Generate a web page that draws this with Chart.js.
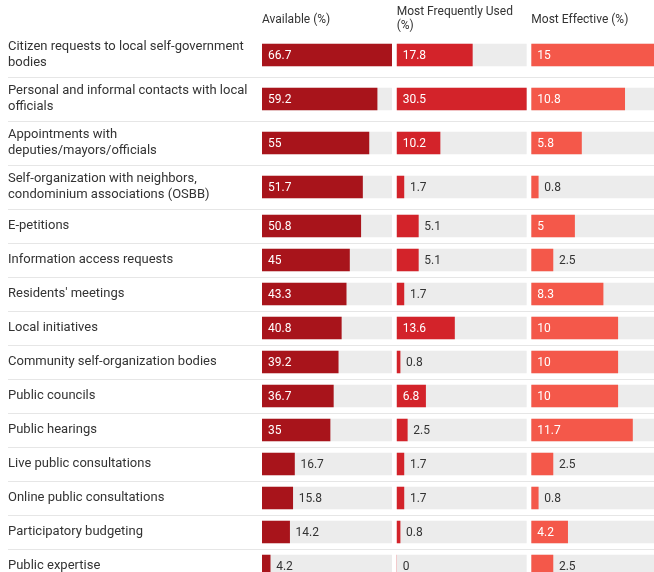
<!DOCTYPE html>
<html>
<head>
<meta charset="utf-8">
<script src="https://cdn.jsdelivr.net/npm/chart.js@4"></script>
<style>
    html, body { margin: 0; padding: 0; background: #fff; overflow: hidden; }
    canvas { display: block; }
</style>
</head>
<body>
<canvas id="chartMecanismos" width="666" height="583"></canvas>
<script>
var rotulos = [
    ['Citizen requests to local self-government', 'bodies'],
    ['Personal and informal contacts with local', 'officials'],
    ['Appointments with', 'deputies/mayors/officials'],
    ['Self-organization with neighbors,', 'condominium associations (OSBB)'],
    ['E-petitions'],
    ['Information access requests'],
    ["Residents' meetings"],
    ['Local initiatives'],
    ['Community self-organization bodies'],
    ['Public councils'],
    ['Public hearings'],
    ['Live public consultations'],
    ['Online public consultations'],
    ['Participatory budgeting'],
    ['Public expertise']
];

var disponivel = [66.7, 59.2, 55, 51.7, 50.8, 45, 43.3, 40.8, 39.2, 36.7, 35, 16.7, 15.8, 14.2, 4.2];
var maisUsado = [17.8, 30.5, 10.2, 1.7, 5.1, 5.1, 1.7, 13.6, 0.8, 6.8, 2.5, 1.7, 1.7, 0.8, 0];
var maisEficaz = [15, 10.8, 5.8, 0.8, 5, 2.5, 8.3, 10, 10, 10, 11.7, 2.5, 0.8, 4.2, 2.5];

var colunas = [
    { id: 'x1', titulo: ['Available (%)'], valores: disponivel, cor: '#a8141b' },
    { id: 'x2', titulo: ['Most Frequently Used', '(%)'], valores: maisUsado, cor: '#d3232a' },
    { id: 'x3', titulo: ['Most Effective (%)'], valores: maisEficaz, cor: '#f4584a' }
];

var ALTURA_BARRA = 22;
var ALTURA_LINHA_TEXTO = 16;

// altura de cada linha da tabela conforme o numero de linhas do rotulo
var centros = [];
var limites = [];
var acumulado = 0;
for (let i = 0; i < rotulos.length; i++) {
    var altura = Math.max(ALTURA_BARRA, rotulos[i].length * ALTURA_LINHA_TEXTO) + 12;
    centros.push(acumulado + altura / 2);
    acumulado += altura;
    limites.push(acumulado);
}
var alturaTotal = acumulado;

var datasets = [];
var escalas = {};

for (let c = 0; c < colunas.length; c++) {
    var col = colunas[c];
    var maximo = Math.max(...col.valores);

    // trilho cinza atras de cada barra
    datasets.push({
        label: 'trilho',
        data: col.valores.map((v, i) => ({ x: maximo, y: centros[i] })),
        xAxisID: col.id,
        backgroundColor: '#ececec',
        barThickness: ALTURA_BARRA,
        grouped: false,
        order: 2
    });

    datasets.push({
        label: col.titulo.join(' '),
        data: col.valores.map((v, i) => ({ x: v, y: centros[i] })),
        xAxisID: col.id,
        backgroundColor: col.cor,
        barThickness: ALTURA_BARRA,
        grouped: false,
        order: 1,
        valorRotulo: true
    });
}

// o chart.js empilha os eixos do topo na ordem inversa
for (let c = colunas.length - 1; c >= 0; c--) {
    var col = colunas[c];
    var duasLinhas = col.titulo.length > 1;
    escalas[col.id] = {
        type: 'linear',
        position: 'top',
        stack: 'colunas',
        stackWeight: 1,
        min: 0,
        max: Math.max(...col.valores) * 1.0386,
        ticks: { display: false },
        grid: { display: false, drawTicks: false },
        border: { display: false },
        title: {
            display: true,
            text: col.titulo,
            align: 'start',
            color: '#333',
            font: { family: 'Roboto', size: 12, lineHeight: '14px' },
            padding: duasLinhas ? { top: 5, bottom: 0 } : { top: 12.5, bottom: 6.5 }
        }
    };
}

escalas.y = {
    type: 'linear',
    reverse: true,
    offset: false,
    min: 0,
    max: alturaTotal,
    afterBuildTicks: function (scale) {
        scale.ticks = centros.map(v => ({ value: v }));
    },
    afterFit: function (scale) {
        scale.width = 254;
        scale.paddingTop = 0;
        scale.paddingBottom = 0;
    },
    ticks: {
        autoSkip: false,
        crossAlign: 'far',
        padding: 0,
        color: '#333',
        font: { family: 'Roboto', size: 13, lineHeight: '16px' },
        callback: function (valor, indice) {
            return rotulos[indice];
        }
    },
    grid: { display: false, drawTicks: false },
    border: { display: false }
};

// linhas separadoras entre as linhas da tabela
var separadores = {
    id: 'separadores',
    beforeDatasetsDraw: function (chart) {
        var ctx = chart.ctx;
        var y = chart.scales.y;
        ctx.save();
        ctx.strokeStyle = '#e6e6e6';
        ctx.lineWidth = 1;
        for (let i = 0; i < limites.length - 1; i++) {
            var py = Math.round(y.getPixelForValue(limites[i])) + 0.5;
            ctx.beginPath();
            ctx.moveTo(8, py);
            ctx.lineTo(chart.width, py);
            ctx.stroke();
        }
        ctx.restore();
    }
};

// valor escrito dentro da barra quando cabe, senao logo depois dela
var valores = {
    id: 'valores',
    afterDatasetsDraw: function (chart) {
        var ctx = chart.ctx;
        ctx.save();
        ctx.font = '12px Roboto';
        ctx.textBaseline = 'middle';
        ctx.textAlign = 'left';
        chart.data.datasets.forEach(function (ds, d) {
            if (!ds.valorRotulo) return;
            chart.getDatasetMeta(d).data.forEach(function (barra, i) {
                var texto = String(ds.data[i].x);
                var largura = barra.x - barra.base;
                var larguraTexto = ctx.measureText(texto).width;
                if (largura >= larguraTexto + 12) {
                    ctx.fillStyle = '#fff';
                    ctx.fillText(texto, barra.base + 6, barra.y + 0.5);
                } else {
                    ctx.fillStyle = '#333';
                    ctx.fillText(texto, barra.x + 6, barra.y + 0.5);
                }
            });
        });
        ctx.restore();
    }
};

var grafico = new Chart(document.getElementById('chartMecanismos'), {
    type: 'bar',
    data: { datasets: datasets },
    options: {
        indexAxis: 'y',
        responsive: false,
        animation: false,
        layout: { padding: { left: 8, right: 0, top: 0, bottom: 0 } },
        plugins: {
            legend: { display: false },
            tooltip: { enabled: false }
        },
        scales: escalas
    },
    plugins: [separadores, valores]
});
</script>
</body>
</html>
